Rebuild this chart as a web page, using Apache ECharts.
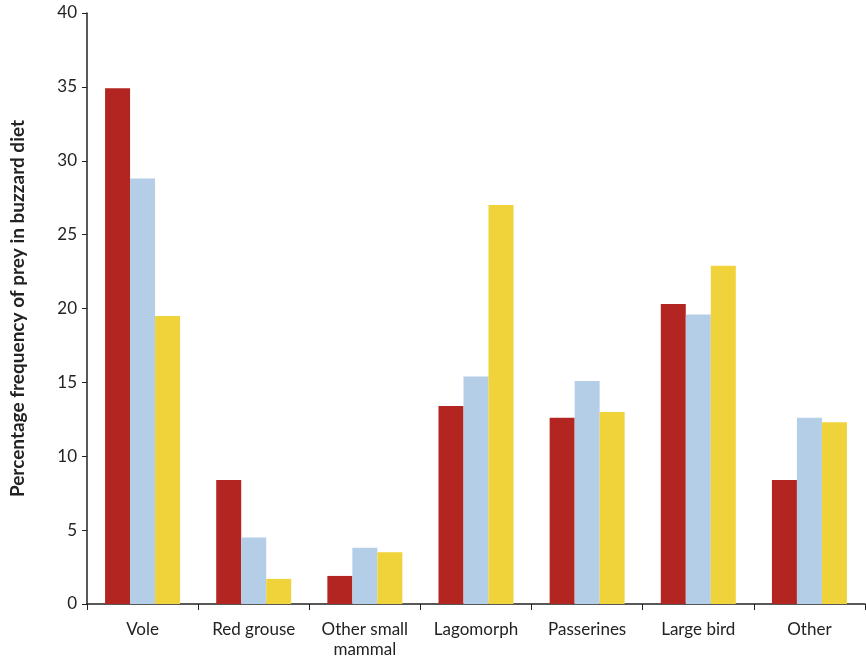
<!DOCTYPE html>
<html>
<head>
<meta charset="utf-8">
<script src="https://cdn.jsdelivr.net/npm/echarts@6/dist/echarts.min.js"></script>
<style>html,body{margin:0;padding:0;background:#fff}#c{width:866px;height:659px}</style>
</head>
<body>
<div id="c"></div>
<script>
const categories = ['Vole', 'Red grouse', 'Other small\nmammal', 'Lagomorph', 'Passerines', 'Large bird', 'Other'];
const seriesRed = [34.9, 8.4, 1.9, 13.4, 12.6, 20.3, 8.4];
const seriesBlue = [28.8, 4.5, 3.8, 15.4, 15.1, 19.6, 12.6];
const seriesYellow = [19.5, 1.7, 3.5, 27.0, 13.0, 22.9, 12.3];
const yTitle = 'Percentage frequency of prey in buzzard diet';

const chart = echarts.init(document.getElementById('c'), null, {renderer: 'canvas'});
const font = 'Lato, "Open Sans", sans-serif';
function bar(data, color) {
  return {type: 'bar', data: data, barWidth: 25, barGap: '0%', itemStyle: {color: color}, animation: false};
}
chart.setOption({
  animation: false,
  grid: {left: 87, right: 1, top: 13, bottom: 55, containLabel: false, outerBoundsMode: 'none'},
  xAxis: {
    type: 'category', data: categories,
    axisLine: {lineStyle: {color: '#222', width: 1.5}},
    axisTick: {show: true, length: 6, alignWithLabel: false, lineStyle: {color: '#222'}},
    axisLabel: {color: '#222', fontSize: 17, fontFamily: font, margin: 16, lineHeight: 20, interval: 0}
  },
  yAxis: {
    type: 'value', min: 0, max: 40, interval: 5,
    name: yTitle, nameLocation: 'middle', nameGap: 60, nameRotate: 90,
    nameTextStyle: {color: '#222', fontSize: 19, fontWeight: 'bold', fontFamily: font},
    axisLine: {show: true, lineStyle: {color: '#222', width: 1.5}},
    axisTick: {show: true, length: 5, lineStyle: {color: '#222'}},
    axisLabel: {color: '#222', fontSize: 17, fontFamily: font, margin: 10},
    splitLine: {show: false}
  },
  series: [bar(seriesRed, '#B22520'), bar(seriesBlue, '#B3CEE6'), bar(seriesYellow, '#F0D33A')]
});
</script>
</body>
</html>
